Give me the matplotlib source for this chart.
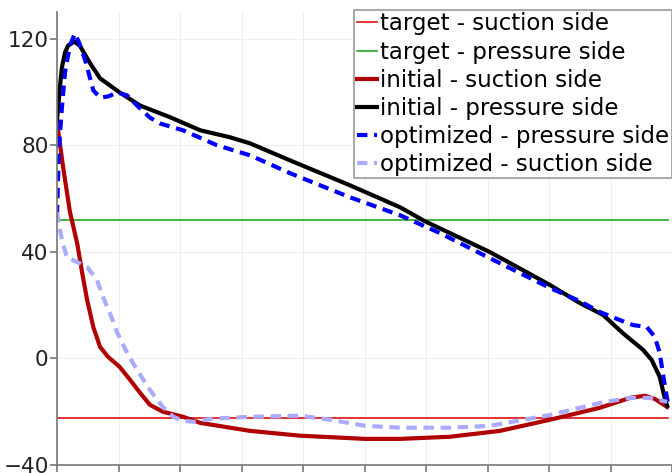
import numpy as np
import matplotlib
matplotlib.use('Agg')
import matplotlib.pyplot as plt

# chord position (0..1) and values
target_suction = -22.5
target_pressure = 52.0

init_p_x = [0, 0.005, 0.008, 0.013, 0.018, 0.028, 0.037, 0.054, 0.070, 0.102, 0.135, 0.184,
            0.233, 0.281, 0.314, 0.379, 0.476, 0.558, 0.598, 0.704, 0.802, 0.850, 0.888,
            0.920, 0.953, 0.967, 0.980, 0.987, 0.992]
init_p_y = [89.5, 102.4, 109.2, 114.8, 117.4, 118.9, 117.4, 110.7, 105.1, 99.8, 94.9, 90.5,
            85.6, 83.0, 80.7, 74.3, 65.0, 56.7, 51.5, 39.9, 27.5, 20.8, 16.3,
            9.5, 3.2, -0.6, -6.9, -13.7, -17.8]

opt_p_x = [0, 0.003, 0.008, 0.013, 0.021, 0.029, 0.036, 0.046, 0.059, 0.070, 0.083, 0.098,
           0.114, 0.135, 0.151, 0.167, 0.205, 0.260, 0.314, 0.379, 0.476, 0.558, 0.623,
           0.704, 0.802, 0.850, 0.883, 0.915, 0.937, 0.959, 0.972, 0.980, 0.985, 0.990, 0.993]
opt_p_y = [53.7, 78.1, 94.2, 107.3, 117.4, 121.9, 118.5, 111.8, 100.6, 97.9, 98.3, 99.8,
           98.7, 93.8, 90.4, 88.2, 85.6, 80.0, 76.2, 69.5, 60.5, 53.7, 47.0,
           37.6, 26.4, 21.5, 17.4, 14.4, 12.5, 11.8, 8.1, 2.1, -5.4, -12.5, -16.3]

init_s_x = [0, 0.010, 0.021, 0.033, 0.041, 0.049, 0.059, 0.070, 0.083, 0.102, 0.119, 0.135,
            0.151, 0.172, 0.205, 0.233, 0.314, 0.395, 0.501, 0.558, 0.639, 0.720, 0.802,
            0.883, 0.932, 0.956, 0.972, 0.992]
init_s_y = [88.6, 71.7, 55.0, 43.0, 32.0, 21.9, 11.8, 4.3, 0.6, -3.2, -8.1, -12.9,
            -17.4, -20.0, -21.9, -24.2, -27.2, -29.0, -30.2, -30.2, -29.4, -27.2, -23.0,
            -18.5, -14.8, -14.0, -15.2, -18.2]

opt_s_x = [0, 0.002, 0.008, 0.016, 0.033, 0.049, 0.065, 0.075, 0.086, 0.098, 0.114, 0.130,
           0.151, 0.172, 0.189, 0.205, 0.224, 0.249, 0.314, 0.395, 0.444, 0.501, 0.558,
           0.639, 0.704, 0.802, 0.883, 0.932, 0.964, 0.992]
opt_s_y = [54.9, 51.9, 44.4, 38.0, 36.1, 34.3, 29.4, 23.0, 17.0, 9.6, 2.1, -4.3,
           -11.8, -18.2, -21.9, -23.4, -23.8, -22.7, -21.9, -21.5, -23.0, -25.3, -26.0,
           -26.0, -25.3, -21.2, -16.7, -14.8, -14.8, -16.3]

fig = plt.figure(figsize=(6.72, 4.73), dpi=100)
ax = fig.add_axes([57 / 672, 8 / 473, 615 / 672, 453 / 473])

ax.plot([0, 0.993], [target_suction] * 2, color='#dd1111', lw=1.2, label='target - suction side')
ax.plot([0, 0.993], [target_pressure] * 2, color='#22aa22', lw=1.2, label='target - pressure side')
ax.plot(init_s_x, init_s_y, color='#b00000', lw=3, label='initial - suction side')
ax.plot(init_p_x, init_p_y, color='black', lw=3, label='initial - pressure side')
ax.plot(opt_p_x, opt_p_y, color='#0000ff', lw=3, ls=(0, (2.5, 1.6)), label='optimized - pressure side')
ax.plot(opt_s_x, opt_s_y, color='#aaaaff', lw=3, ls=(0, (2.5, 1.6)), label='optimized - suction side')

ax.set_xlim(0, 1)
ax.set_ylim(-40, 130)
ax.set_xticks(np.arange(0, 1.01, 0.1))
ax.set_xticklabels([])
ax.set_yticks([-40, 0, 40, 80, 120])
ax.grid(True, color='#eeeeee', lw=0.8)
ax.set_axisbelow(True)

for s in ['top', 'right']:
    ax.spines[s].set_visible(False)
for s in ['left', 'bottom']:
    ax.spines[s].set_color('#777777')
    ax.spines[s].set_linewidth(1.2)
ax.tick_params(colors='#777777', labelcolor='#222222', length=5, width=1.2, labelsize=15.5, pad=1)

leg = ax.legend(loc='upper right', bbox_to_anchor=(1.0, 1.005), fontsize=16.5, frameon=True,
                fancybox=False, edgecolor='#999999', framealpha=1, handlelength=0.9,
                handletextpad=0.12, labelspacing=0.22, borderpad=0.12, borderaxespad=0)
leg.get_frame().set_linewidth(1.2)

fig.savefig('out.png', dpi=100)
